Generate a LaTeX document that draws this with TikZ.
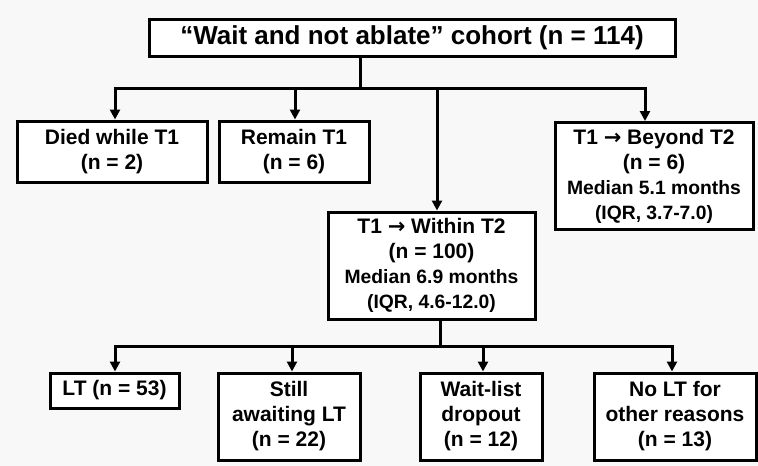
\documentclass[tikz,border=0pt]{standalone}
\usepackage{fontspec}
\setmainfont{Liberation Sans}
\newfontfamily\arrowfont{DejaVu Sans}
\usetikzlibrary{arrows.meta}
\definecolor{bgcol}{RGB}{248,248,248}
\newcommand{\rarr}{{\arrowfont\bfseries →}}
\newcommand{\sm}{\fontsize{19.3}{24}\selectfont}
\begin{document}
\begin{tikzpicture}[x=1pt,y=-1pt,
  box/.style={draw=black, line width=3pt, fill=white, align=center, inner sep=0pt,
    font=\fontsize{21}{25}\selectfont\bfseries},
  conn/.style={line width=3pt},
  arr/.style={conn, -{Triangle[length=10pt,width=10pt]}}
]
\fill[bgcol] (0,0) rectangle (758,466);
\useasboundingbox (0,0) rectangle (758,466);

\node[box, minimum width=526pt, minimum height=37pt, font=\fontsize{26}{30}\selectfont\bfseries] (top) at (412,37.5) {“Wait and not ablate” cohort (n = 114)};

\node[box, minimum width=190pt, minimum height=61pt] (died) at (112,151.5) {Died while T1\\(n = 2)};
\node[box, minimum width=150pt, minimum height=61pt] (remain) at (294,151.5) {Remain T1\\(n = 6)};
\node[box, minimum width=198pt, minimum height=107pt] (beyond) at (654,176) {T1 \rarr{} Beyond T2\\(n = 6)\\{\sm Median 5.1 months}\\{\sm (IQR, 3.7-7.0)}};
\node[box, minimum width=207pt, minimum height=107pt] (middle) at (431.5,265.5) {T1 \rarr{} Within T2\\(n = 100)\\{\sm Median 6.9 months}\\{\sm (IQR, 4.6-12.0)}};

\node[box, minimum width=129pt, minimum height=35pt] (lt) at (114.5,390.5) {LT (n = 53)};
\node[box, minimum width=142pt, minimum height=87pt] (still) at (289,416.5) {Still\\awaiting LT\\(n = 22)};
\node[box, minimum width=122pt, minimum height=87pt] (wait) at (481,416.5) {Wait-list\\dropout\\(n = 12)};
\node[box, minimum width=162pt, minimum height=87pt] (nolt) at (675,416.5) {No LT for\\other reasons\\(n = 13)};

% first level connectors
\coordinate (j1) at (360,88);
\coordinate (h1a) at (115,88);
\coordinate (h1b) at (295,88);
\coordinate (h1c) at (437,88);
\coordinate (h1d) at (645,88);
\draw[conn] (top.south -| j1) -- (j1);
\draw[arr] (j1) -- (h1a) -- (died.north -| h1a);
\draw[arr] (j1) -- (h1d) -- (beyond.north -| h1d);
\draw[arr] (h1b) -- (remain.north -| h1b);
\draw[arr] (h1c) -- (middle.north -| h1c);

% second level connectors
\coordinate (j2) at (440,346);
\coordinate (h2a) at (115,346);
\coordinate (h2b) at (292,346);
\coordinate (h2c) at (483,346);
\coordinate (h2d) at (672,346);
\draw[conn] (middle.south -| j2) -- (j2);
\draw[arr] (j2) -- (h2a) -- (lt.north -| h2a);
\draw[arr] (j2) -- (h2d) -- (nolt.north -| h2d);
\draw[arr] (h2b) -- (still.north -| h2b);
\draw[arr] (h2c) -- (wait.north -| h2c);
\end{tikzpicture}
\end{document}
